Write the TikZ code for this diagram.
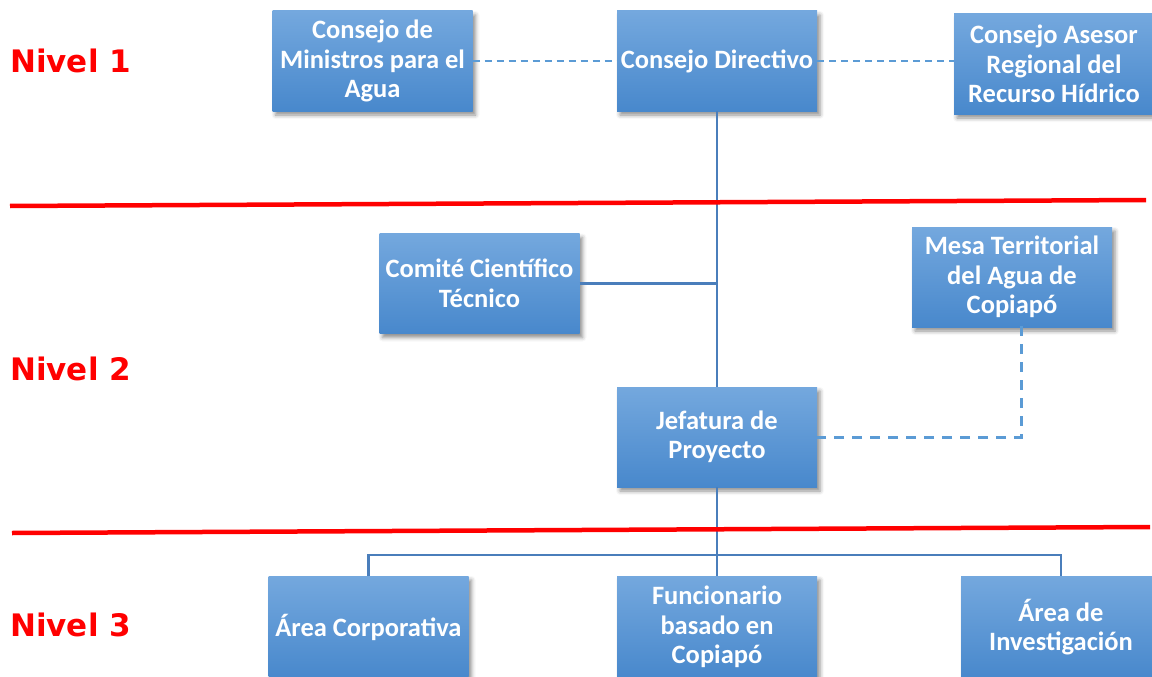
\documentclass[tikz,border=0pt]{standalone}
\usepackage{fontspec}
\setmainfont{Carlito}
\newfontfamily\lvlfont{DejaVu Sans}
\usetikzlibrary{shadows.blur}
\definecolor{boxtop}{HTML}{74A8DE}
\definecolor{boxbot}{HTML}{4888CC}
\definecolor{linkblue}{HTML}{4A7EBB}
\definecolor{dashblue}{HTML}{5B9BD5}
\definecolor{lvlred}{HTML}{FF0000}
\begin{document}
\begin{tikzpicture}[x=1pt,y=-1pt,
  orgbox/.style={rectangle, minimum width=200pt, minimum height=100pt, inner sep=0pt,
    top color=boxtop, bottom color=boxbot, text=white, align=center,
    font=\bfseries\fontsize{26.5}{29.5}\selectfont,
    blur shadow={shadow xshift=3pt, shadow yshift=-4pt, shadow blur radius=4pt, shadow opacity=45}},
  lvl/.style={anchor=west, text=lvlred, font=\lvlfont\bfseries\fontsize{31}{36}\selectfont, inner sep=0pt},
  solidlink/.style={draw=linkblue, line width=2.4pt},
  thindash/.style={draw=dashblue, line width=1.8pt, dash pattern=on 7pt off 5pt},
  thickdash/.style={draw=dashblue, line width=3pt, dash pattern=on 10pt off 8pt},
  sep/.style={draw=lvlred, line width=4.5pt}
]
\useasboundingbox (0,0) rectangle (1152,677);

% level labels
\node[lvl] (n1) at (10,61) {Nivel 1};
\node[lvl] (n2) at (10,369) {Nivel 2};
\node[lvl] (n3) at (10,625) {Nivel 3};

% boxes
\node[orgbox] (min) at (372.5,61) {Consejo de\\Ministros para el\\Agua};
\node[orgbox] (dir) at (717,61) {Consejo Directivo};
\node[orgbox] (ases) at (1054,64) {Consejo Asesor\\Regional del\\Recurso Hídrico};
\node[orgbox] (com) at (479.5,283.5) {Comité Científico\\Técnico};
\node[orgbox] (mesa) at (1012,277) {Mesa Territorial\\del Agua de\\Copiapó};
\node[orgbox] (jef) at (717,437) {Jefatura de\\Proyecto};
\node[orgbox, minimum height=102pt] (corp) at (368.5,627) {Área Corporativa};
\node[orgbox, minimum height=102pt] (func) at (717,627) {Funcionario\\basado en\\Copiapó};
\node[orgbox, minimum height=102pt] (inv) at (1061,627) {Área de\\Investigación};

% connectors
\coordinate (bus) at (717,555);
\coordinate (mesadrop) at (1021,326);
\draw[thindash] (min.east) -- (min.east -| dir.west);
\draw[thindash] (dir.east) -- (dir.east -| ases.west);
\draw[solidlink] (dir.south) -- (jef.north);
\draw[solidlink] (com.east) -- (com.east -| dir.south);
\draw[thickdash] (mesadrop) |- (jef.east);
\draw[solidlink] (jef.south) -- (func.north);
\draw[solidlink] (corp.north) |- (bus) -| (inv.north);

% level separators
\draw[sep] (10,206) -- (1146,200);
\draw[sep] (12,533) -- (1150,527);
\end{tikzpicture}
\end{document}
